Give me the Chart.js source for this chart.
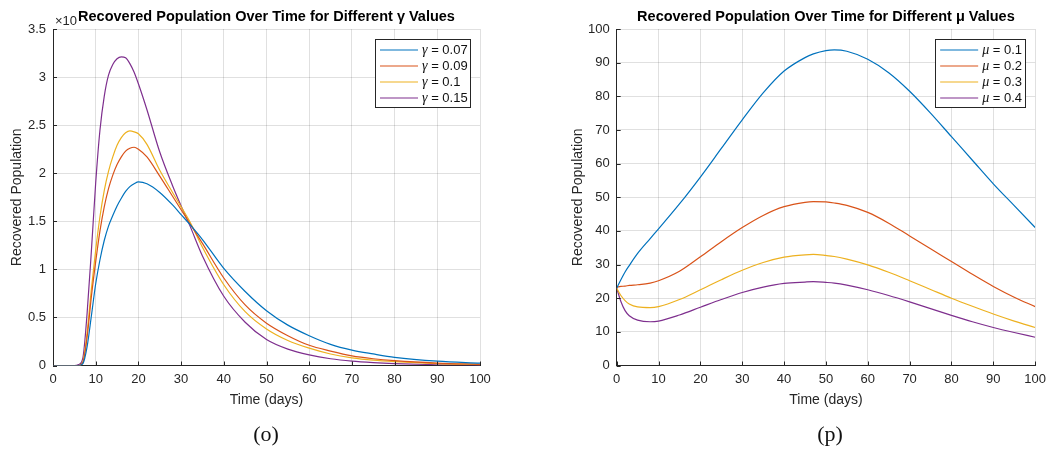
<!DOCTYPE html>
<html>
<head>
<meta charset="utf-8">
<script src="https://cdn.jsdelivr.net/npm/chart.js@4.4.0/dist/chart.umd.min.js"></script>
<style>
  body { margin: 0; background: #fff; }
  #wrap { position: relative; width: 1052px; height: 453px; overflow: hidden; }
  .panel { position: absolute; top: 0; width: 526px; height: 453px; }
  .cap { position: absolute; top: 421px; font: 22px "Liberation Serif", serif; color: #111; width: 60px; text-align: center; }
</style>
</head>
<body>
<div id="wrap">
  <div class="panel" style="left:0"><canvas id="c1" width="526" height="453"></canvas></div>
  <div class="panel" style="left:526px"><canvas id="c2" width="526" height="453"></canvas></div>
  <div class="cap" style="left:236px">(o)</div>
  <div class="cap" style="left:800px">(p)</div>
</div>
<script>
// panel (o): recovered population, different gamma (values in units of x10^k)
var tGamma = [0, 5, 6, 7, 8, 9, 10, 11, 12, 13, 14, 15, 16, 17, 18, 19, 20, 22, 25, 28, 30, 32, 35, 40, 45, 50, 55, 60, 65, 70, 75, 80, 90, 100];
var gammaLabels = ["0.07", "0.09", "0.1", "0.15"];
var g007 = [0, 0, 0, 0.02, 0.2, 0.52, 0.85, 1.1, 1.3, 1.45, 1.56, 1.66, 1.74, 1.81, 1.86, 1.89, 1.91, 1.89, 1.8, 1.67, 1.57, 1.47, 1.31, 1.01, 0.77, 0.57, 0.42, 0.31, 0.22, 0.16, 0.12, 0.085, 0.045, 0.025];
var g009 = [0, 0, 0, 0.03, 0.3, 0.72, 1.08, 1.4, 1.65, 1.84, 1.98, 2.09, 2.17, 2.23, 2.26, 2.27, 2.25, 2.17, 1.97, 1.76, 1.62, 1.48, 1.27, 0.91, 0.63, 0.44, 0.31, 0.21, 0.15, 0.1, 0.07, 0.05, 0.025, 0.012];
var g010 = [0, 0, 0, 0.04, 0.35, 0.8, 1.2, 1.55, 1.82, 2.02, 2.17, 2.29, 2.37, 2.42, 2.44, 2.43, 2.41, 2.3, 2.03, 1.8, 1.65, 1.5, 1.23, 0.84, 0.56, 0.38, 0.26, 0.18, 0.12, 0.08, 0.055, 0.04, 0.02, 0.01];
var g015 = [0, 0, 0.01, 0.08, 0.55, 1.2, 1.9, 2.45, 2.8, 3.02, 3.13, 3.19, 3.21, 3.2, 3.14, 3.05, 2.93, 2.66, 2.22, 1.87, 1.66, 1.46, 1.14, 0.72, 0.45, 0.27, 0.17, 0.11, 0.07, 0.045, 0.03, 0.02, 0.008, 0.004];
var gammaTicks = [0, 0.5, 1, 1.5, 2, 2.5, 3, 3.5];

// panel (p): recovered population, different mu
var tMu = [0, 1, 2, 3, 5, 8, 10, 15, 20, 25, 30, 35, 40, 45, 47, 50, 52, 55, 60, 65, 70, 75, 80, 85, 90, 95, 100];
var muLabels = ["0.1", "0.2", "0.3", "0.4"];
var m01 = [23, 25.5, 27.8, 29.7, 33.3, 37.7, 40.6, 48, 56, 64.5, 73, 81, 87.5, 91.5, 92.6, 93.6, 93.8, 93.4, 91, 87, 81.5, 75, 68, 61, 54, 47.5, 41];
var m02 = [23.3, 23.5, 23.6, 23.8, 24, 24.5, 25.2, 28, 32.3, 36.8, 41, 44.6, 47.2, 48.5, 48.7, 48.6, 48.3, 47.6, 45.5, 42.3, 38.5, 34.7, 30.9, 27.1, 23.5, 20.3, 17.5];
var m03 = [23, 20.8, 19.3, 18.3, 17.4, 17.2, 17.5, 19.6, 22.5, 25.5, 28.3, 30.6, 32.2, 32.9, 33, 32.7, 32.4, 31.6, 29.9, 27.7, 25.2, 22.6, 20, 17.6, 15.3, 13.2, 11.3];
var m04 = [23, 19, 16.3, 14.8, 13.5, 13, 13.2, 15, 17.3, 19.6, 21.7, 23.3, 24.4, 24.8, 24.9, 24.7, 24.5, 23.9, 22.5, 20.8, 18.9, 16.9, 14.9, 13, 11.3, 9.8, 8.4];
var muTicks = [0, 10, 20, 30, 40, 50, 60, 70, 80, 90, 100];

var colors = ["#0072BD", "#D95319", "#EDB120", "#7E2F8E"];
var axisCol = "#262626";
var gridCol = "rgba(0,0,0,0.12)";
var sans = "'Liberation Sans', Arial, sans-serif";

function pts(ts, ys) {
  return ts.map(function (t, i) { return { x: t, y: ys[i] }; });
}

function makeSets(ts, series, labels) {
  return series.map(function (s, i) {
    return {
      label: labels[i],
      data: pts(ts, s),
      borderColor: colors[i],
      backgroundColor: colors[i],
      borderWidth: 1.2,
      pointRadius: 0,
      cubicInterpolationMode: "monotone",
      fill: false
    };
  });
}

// legend box inside the axes, top right, and inward tick marks
var boxLegend = {
  id: "boxLegend",
  afterDraw: function (chart) {
    var o = chart.options.plugins.boxLegend;
    var a = chart.chartArea, ctx = chart.ctx;
    var w = o.width, h = 68;
    var L = a.right - 10 - w, T = a.top + 10;

    // inward ticks
    ctx.save();
    ctx.strokeStyle = axisCol;
    ctx.lineWidth = 1;
    var xs = chart.scales.x, ys = chart.scales.y;
    xs.ticks.forEach(function (tk) {
      var px = Math.round(xs.getPixelForValue(tk.value)) + 0.5;
      ctx.beginPath(); ctx.moveTo(px, a.bottom); ctx.lineTo(px, a.bottom - 4); ctx.stroke();
    });
    ys.ticks.forEach(function (tk) {
      var py = Math.round(ys.getPixelForValue(tk.value)) + 0.5;
      ctx.beginPath(); ctx.moveTo(a.left, py); ctx.lineTo(a.left + 4, py); ctx.stroke();
    });

    ctx.fillStyle = "#fff";
    ctx.fillRect(L, T, w, h);
    ctx.strokeStyle = axisCol;
    ctx.strokeRect(Math.round(L) + 0.5, Math.round(T) + 0.5, w, h);
    chart.data.datasets.forEach(function (ds, i) {
      var y = T + 11 + i * 16;
      ctx.strokeStyle = ds.borderColor;
      ctx.lineWidth = 1.2;
      ctx.beginPath(); ctx.moveTo(L + 5, y); ctx.lineTo(L + 43, y); ctx.stroke();
      ctx.fillStyle = "#111";
      ctx.textBaseline = "middle";
      ctx.font = "italic 14px 'Liberation Serif', serif";
      ctx.fillText(o.sym, L + 47, y);
      var sw = ctx.measureText(o.sym).width;
      ctx.font = "13px " + sans;
      ctx.fillText(" = " + ds.label, L + 47 + sw, y);
    });
    ctx.restore();
  },
  beforeDraw: function (chart) {
    var o = chart.options.plugins.boxLegend;
    if (!o.exp) return;
    var ctx = chart.ctx;
    ctx.save();
    ctx.fillStyle = axisCol;
    ctx.font = "13px " + sans;
    ctx.textBaseline = "middle";
    ctx.fillText(o.exp, chart.chartArea.left + 2, 21);
    ctx.restore();
  }
};

function makeChart(id, sets, opt) {
  return new Chart(document.getElementById(id), {
    type: "line",
    data: { datasets: sets },
    plugins: [boxLegend],
    options: {
      responsive: false,
      devicePixelRatio: 1,
      animation: false,
      layout: { padding: { left: opt.padLeft, right: opt.padRight, top: 0, bottom: 44 } },
      plugins: {
        legend: { display: false },
        tooltip: { enabled: false },
        title: {
          display: true,
          text: opt.title,
          fullSize: false,
          color: "#000",
          font: { family: sans, size: 14.5, weight: "bold" },
          padding: { top: 8, bottom: 3.6 }
        },
        boxLegend: { width: opt.legendWidth, sym: opt.sym, exp: opt.exp }
      },
      scales: {
        x: {
          type: "linear",
          min: 0, max: 100,
          ticks: { stepSize: 10, color: axisCol, font: { family: sans, size: 13 }, padding: 6, maxRotation: 0 },
          grid: { color: gridCol, drawTicks: false },
          border: { color: axisCol, width: 1 },
          title: { display: true, text: "Time (days)", color: axisCol, font: { family: sans, size: 14 }, padding: { top: 2, bottom: 0 } },
          afterFit: function (s) { s.height = 453 - 44 - 365.5; }
        },
        y: {
          min: 0, max: opt.ymax,
          afterBuildTicks: function (s) { s.ticks = opt.yticks.map(function (v) { return { value: v }; }); },
          ticks: {
            color: axisCol, font: { family: sans, size: 13 }, padding: 7,
            callback: function (v) { return String(v); }
          },
          grid: { color: gridCol, drawTicks: false },
          border: { color: axisCol, width: 1 },
          title: { display: true, text: "Recovered Population", color: axisCol, font: { family: sans, size: 14 }, padding: 0 },
          afterFit: function (s) { s.width = opt.yWidth; }
        }
      }
    }
  });
}

makeChart("c1", makeSets(tGamma, [g007, g009, g010, g015], gammaLabels), {
  title: "Recovered Population Over Time for Different \u03B3 Values",
  sym: "\u03B3", exp: "\u00D710", legendWidth: 95,
  padLeft: 8.6, padRight: 46, yWidth: 44.4,
  ymax: 3.5, yticks: gammaTicks
});

makeChart("c2", makeSets(tMu, [m01, m02, m03, m04], muLabels), {
  title: "Recovered Population Over Time for Different \u03BC Values",
  sym: "\u03BC", exp: "", legendWidth: 90,
  padLeft: 43.6, padRight: 8.7, yWidth: 47.1,
  ymax: 100, yticks: muTicks
});
</script>
</body>
</html>
